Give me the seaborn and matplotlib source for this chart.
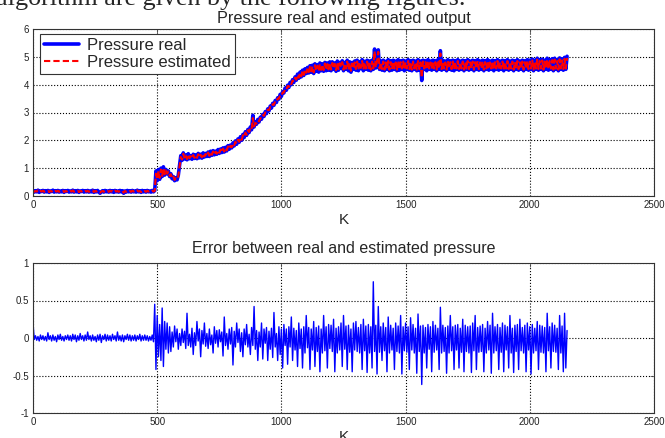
import numpy as np
import pandas as pd
import seaborn as sns
import matplotlib
matplotlib.use("Agg")
import matplotlib.pyplot as plt

# sample index K, one value every 5 samples
k = np.arange(0, 2155, 5)

pressure_real = [
    0.2, 0.14, 0.19, 0.15, 0.21, 0.13, 0.18, 0.16, 0.2, 0.14,
    0.19, 0.15, 0.2, 0.13, 0.18, 0.16, 0.21, 0.14, 0.19, 0.15,
    0.2, 0.14, 0.18, 0.15, 0.2, 0.13, 0.19, 0.16, 0.2, 0.14,
    0.18, 0.15, 0.21, 0.14, 0.19, 0.15, 0.2, 0.13, 0.18, 0.16,
    0.2, 0.14, 0.19, 0.15, 0.2, 0.14, 0.18, 0.15, 0.21, 0.13,
    0.19, 0.15, 0.2, 0.14, 0.1, 0.15, 0.19, 0.14, 0.2, 0.15,
    0.18, 0.14, 0.2, 0.15, 0.19, 0.13, 0.2, 0.15, 0.18, 0.14,
    0.2, 0.15, 0.19, 0.1, 0.18, 0.14, 0.2, 0.15, 0.19, 0.14,
    0.2, 0.15, 0.18, 0.14, 0.21, 0.15, 0.19, 0.13, 0.2, 0.15,
    0.19, 0.14, 0.2, 0.15, 0.18, 0.14, 0.2, 0.15, 0.19, 0.9,
    0.55, 0.95, 0.6, 1.0, 0.7, 1.05, 0.75, 0.95, 0.8, 0.9,
    0.7, 0.8, 0.62, 0.7, 0.55, 0.65, 0.58, 0.75, 1.1, 1.45,
    1.28, 1.55, 1.33, 1.47, 1.3, 1.52, 1.34, 1.45, 1.32, 1.5,
    1.35, 1.48, 1.34, 1.53, 1.37, 1.5, 1.36, 1.55, 1.4, 1.53,
    1.42, 1.58, 1.42, 1.61, 1.46, 1.63, 1.48, 1.61, 1.5, 1.67,
    1.53, 1.69, 1.56, 1.73, 1.58, 1.75, 1.62, 1.81, 1.68, 1.83,
    1.73, 1.91, 1.8, 1.98, 1.86, 2.05, 1.93, 2.13, 2.0, 2.21,
    2.1, 2.31, 2.18, 2.39, 2.28, 2.48, 2.38, 2.9, 2.48, 2.65,
    2.58, 2.75, 2.66, 2.83, 2.76, 2.93, 2.86, 3.03, 2.96, 3.13,
    3.06, 3.23, 3.16, 3.33, 3.26, 3.43, 3.36, 3.53, 3.48, 3.65,
    3.58, 3.75, 3.7, 3.88, 3.8, 3.98, 3.9, 4.08, 4.0, 4.18,
    4.08, 4.28, 4.16, 4.38, 4.23, 4.45, 4.28, 4.52, 4.33, 4.57,
    4.4, 4.62, 4.42, 4.68, 4.45, 4.7, 4.4, 4.75, 4.48, 4.72,
    4.45, 4.78, 4.5, 4.75, 4.48, 4.8, 4.5, 4.78, 4.52, 4.82,
    4.5, 4.82, 4.55, 4.78, 4.48, 4.85, 4.52, 4.8, 4.6, 4.86,
    4.5, 4.8, 4.55, 4.88, 4.5, 4.82, 4.45, 4.8, 4.55, 4.85,
    4.52, 4.88, 4.5, 4.83, 4.58, 4.9, 4.5, 4.84, 4.55, 4.88,
    4.52, 4.85, 4.5, 4.88, 4.55, 5.28, 4.6, 4.9, 5.25, 4.55,
    4.85, 4.52, 4.88, 4.5, 4.84, 4.55, 4.9, 4.5, 4.86, 4.52,
    4.88, 4.55, 4.85, 4.5, 4.9, 4.52, 4.86, 4.55, 4.88, 4.5,
    4.85, 4.55, 4.9, 4.52, 4.86, 4.5, 4.88, 4.55, 4.85, 4.5,
    4.9, 4.52, 4.85, 4.15, 4.88, 4.55, 4.86, 4.5, 4.9, 4.55,
    4.85, 4.52, 4.88, 4.55, 4.86, 4.5, 4.9, 4.55, 5.22, 4.52,
    4.88, 4.55, 4.85, 4.5, 4.9, 4.55, 4.86, 4.52, 4.88, 4.5,
    4.86, 4.55, 4.9, 4.52, 4.85, 4.55, 4.88, 4.5, 4.86, 4.55,
    4.9, 4.52, 4.85, 4.55, 4.88, 4.5, 4.86, 4.55, 4.9, 4.52,
    4.85, 4.55, 4.88, 4.5, 4.86, 4.55, 4.9, 4.52, 4.85, 4.55,
    4.88, 4.5, 4.86, 4.55, 4.9, 4.52, 4.85, 4.55, 4.88, 4.5,
    4.86, 4.55, 4.9, 4.52, 4.85, 4.55, 4.88, 4.5, 4.86, 4.55,
    4.9, 4.52, 4.85, 4.55, 4.88, 4.5, 4.86, 4.55, 4.9, 4.52,
    4.88, 4.55, 4.92, 4.5, 4.88, 4.55, 4.95, 4.52, 4.9, 4.55,
    4.92, 4.5, 4.88, 4.55, 4.95, 4.52, 4.9, 4.55, 4.93, 4.5,
    4.95, 4.55, 4.9, 4.5, 4.96, 4.55, 4.92, 4.52, 4.98, 4.55,
    5.02,
]

pressure_est = [
    0.19, 0.15, 0.18, 0.16, 0.2, 0.14, 0.18, 0.16, 0.19, 0.15,
    0.18, 0.16, 0.19, 0.14, 0.18, 0.16, 0.2, 0.15, 0.18, 0.16,
    0.19, 0.15, 0.18, 0.16, 0.19, 0.14, 0.18, 0.16, 0.19, 0.15,
    0.18, 0.16, 0.2, 0.15, 0.18, 0.16, 0.19, 0.14, 0.18, 0.16,
    0.19, 0.15, 0.18, 0.16, 0.19, 0.15, 0.18, 0.16, 0.2, 0.14,
    0.18, 0.16, 0.19, 0.15, 0.12, 0.16, 0.18, 0.15, 0.19, 0.16,
    0.18, 0.15, 0.19, 0.16, 0.18, 0.14, 0.19, 0.16, 0.18, 0.15,
    0.19, 0.16, 0.18, 0.12, 0.18, 0.15, 0.19, 0.16, 0.18, 0.15,
    0.19, 0.16, 0.18, 0.15, 0.2, 0.16, 0.18, 0.14, 0.19, 0.16,
    0.18, 0.15, 0.19, 0.16, 0.18, 0.15, 0.19, 0.16, 0.18, 0.8,
    0.6, 0.9, 0.65, 0.95, 0.72, 1.0, 0.78, 0.92, 0.8, 0.88,
    0.72, 0.78, 0.64, 0.7, 0.58, 0.64, 0.6, 0.72, 1.05, 1.4,
    1.31, 1.52, 1.35, 1.45, 1.33, 1.49, 1.36, 1.43, 1.35, 1.47,
    1.37, 1.46, 1.37, 1.5, 1.39, 1.48, 1.39, 1.52, 1.42, 1.51,
    1.44, 1.56, 1.45, 1.58, 1.48, 1.6, 1.5, 1.59, 1.52, 1.64,
    1.55, 1.67, 1.58, 1.7, 1.6, 1.72, 1.64, 1.78, 1.7, 1.8,
    1.75, 1.88, 1.82, 1.95, 1.88, 2.02, 1.95, 2.1, 2.02, 2.18,
    2.12, 2.28, 2.2, 2.36, 2.3, 2.45, 2.4, 2.8, 2.5, 2.62,
    2.6, 2.72, 2.68, 2.8, 2.78, 2.9, 2.88, 3.0, 2.98, 3.1,
    3.08, 3.2, 3.18, 3.3, 3.28, 3.4, 3.38, 3.5, 3.5, 3.62,
    3.6, 3.72, 3.72, 3.85, 3.82, 3.95, 3.92, 4.05, 4.02, 4.15,
    4.1, 4.25, 4.18, 4.35, 4.25, 4.42, 4.3, 4.5, 4.35, 4.55,
    4.43, 4.58, 4.45, 4.64, 4.48, 4.66, 4.44, 4.7, 4.5, 4.68,
    4.48, 4.73, 4.53, 4.72, 4.52, 4.76, 4.53, 4.74, 4.55, 4.78,
    4.54, 4.78, 4.58, 4.75, 4.52, 4.8, 4.56, 4.77, 4.62, 4.81,
    4.54, 4.76, 4.58, 4.83, 4.54, 4.78, 4.5, 4.76, 4.58, 4.8,
    4.56, 4.83, 4.54, 4.79, 4.6, 4.85, 4.54, 4.8, 4.58, 4.83,
    4.56, 4.8, 4.54, 4.83, 4.58, 5.2, 4.62, 4.85, 5.18, 4.58,
    4.8, 4.56, 4.83, 4.54, 4.8, 4.58, 4.85, 4.54, 4.81, 4.56,
    4.83, 4.58, 4.8, 4.54, 4.85, 4.56, 4.81, 4.58, 4.83, 4.54,
    4.8, 4.58, 4.85, 4.56, 4.81, 4.54, 4.83, 4.58, 4.8, 4.54,
    4.85, 4.56, 4.8, 4.25, 4.83, 4.58, 4.81, 4.54, 4.85, 4.58,
    4.8, 4.56, 4.83, 4.58, 4.81, 4.54, 4.85, 4.58, 5.12, 4.56,
    4.83, 4.58, 4.8, 4.54, 4.85, 4.58, 4.81, 4.56, 4.83, 4.54,
    4.81, 4.58, 4.85, 4.56, 4.8, 4.58, 4.83, 4.54, 4.81, 4.58,
    4.85, 4.56, 4.8, 4.58, 4.83, 4.54, 4.81, 4.58, 4.85, 4.56,
    4.8, 4.58, 4.83, 4.54, 4.81, 4.58, 4.85, 4.56, 4.8, 4.58,
    4.83, 4.54, 4.81, 4.58, 4.85, 4.56, 4.8, 4.58, 4.83, 4.54,
    4.81, 4.58, 4.85, 4.56, 4.8, 4.58, 4.83, 4.54, 4.81, 4.58,
    4.85, 4.56, 4.8, 4.58, 4.83, 4.54, 4.81, 4.58, 4.85, 4.56,
    4.83, 4.58, 4.87, 4.54, 4.83, 4.58, 4.9, 4.56, 4.85, 4.58,
    4.87, 4.54, 4.83, 4.58, 4.9, 4.56, 4.85, 4.58, 4.88, 4.54,
    4.9, 4.58, 4.85, 4.54, 4.91, 4.58, 4.87, 4.56, 4.93, 4.58,
    4.96,
]

error = [
    0.2, -0.02, 0.03, -0.03, 0.02, -0.04, 0.04, -0.02, 0.03, -0.03,
    0.02, -0.04, 0.07, -0.02, 0.03, -0.04, 0.04, -0.03, 0.02, -0.05,
    0.04, -0.02, 0.05, -0.03, 0.02, -0.04, 0.03, -0.02, 0.04, -0.03,
    0.03, -0.04, 0.05, -0.02, 0.04, -0.05, 0.03, -0.03, 0.06, -0.02,
    0.03, -0.04, 0.04, -0.03, 0.08, -0.02, 0.03, -0.04, 0.04, -0.03,
    0.02, -0.05, 0.04, -0.03, 0.05, -0.06, 0.03, -0.02, 0.05, -0.04,
    0.04, -0.03, 0.03, -0.04, 0.05, -0.02, 0.03, -0.04, 0.08, -0.03,
    0.03, -0.04, 0.04, -0.05, 0.03, -0.02, 0.05, -0.03, 0.04, -0.04,
    0.03, -0.03, 0.04, -0.04, 0.03, -0.02, 0.05, -0.04, 0.03, -0.03,
    0.04, -0.03, 0.03, -0.04, 0.02, -0.03, 0.04, -0.05, 0.45, -0.42,
    0.3, -0.25, 0.18, -0.3, 0.4, -0.38, 0.22, -0.15, 0.2, -0.2,
    0.15, -0.18, 0.08, -0.12, 0.16, -0.05, 0.12, -0.15, 0.06, -0.1,
    0.12, -0.06, 0.09, -0.14, 0.33, -0.1, 0.05, -0.12, 0.13, -0.22,
    0.07, -0.1, 0.22, -0.04, 0.12, -0.25, 0.1, -0.08, 0.2, -0.11,
    0.06, -0.14, 0.12, -0.09, 0.04, -0.2, 0.15, -0.07, 0.1, -0.12,
    0.11, -0.05, 0.08, -0.24, 0.28, -0.1, 0.06, -0.15, 0.12, -0.08,
    0.14, -0.36, 0.09, -0.12, 0.2, -0.06, 0.12, -0.18, 0.07, -0.25,
    0.12, -0.09, 0.18, -0.12, 0.05, -0.22, 0.14, -0.1, 0.42, -0.15,
    0.1, -0.3, 0.08, -0.12, 0.2, -0.28, 0.12, -0.07, 0.14, -0.3,
    0.09, -0.15, 0.13, -0.26, 0.34, -0.12, 0.06, -0.3, 0.15, -0.22,
    0.12, -0.4, 0.18, -0.1, 0.12, -0.35, 0.15, -0.12, 0.28, -0.3,
    0.13, -0.16, 0.1, -0.38, 0.2, -0.14, 0.12, -0.4, 0.15, -0.2,
    0.3, -0.13, 0.14, -0.42, 0.12, -0.16, 0.22, -0.38, 0.14, -0.18,
    0.16, -0.45, 0.12, -0.2, 0.3, -0.17, 0.15, -0.4, 0.18, -0.14,
    0.17, -0.18, 0.25, -0.45, 0.13, -0.2, 0.15, -0.16, 0.2, -0.38,
    0.3, -0.15, 0.16, -0.42, 0.17, -0.19, 0.12, -0.45, 0.2, -0.16,
    0.22, -0.18, 0.14, -0.2, 0.18, -0.42, 0.25, -0.17, 0.16, -0.46,
    0.18, -0.2, 0.15, -0.4, 0.75, -0.18, 0.17, -0.48, 0.42, -0.19,
    0.15, -0.3, 0.2, -0.17, 0.14, -0.45, 0.28, -0.2, 0.17, -0.16,
    0.13, -0.42, 0.2, -0.18, 0.16, -0.2, 0.3, -0.48, 0.15, -0.17,
    0.2, -0.19, 0.15, -0.42, 0.27, -0.16, 0.18, -0.2, 0.13, -0.47,
    0.32, -0.18, 0.16, -0.62, 0.17, -0.2, 0.14, -0.4, 0.18, -0.15,
    0.15, -0.45, 0.22, -0.19, 0.17, -0.16, 0.13, -0.42, 0.41, -0.2,
    0.17, -0.18, 0.14, -0.47, 0.16, -0.2, 0.3, -0.17, 0.15, -0.42,
    0.17, -0.16, 0.18, -0.4, 0.13, -0.19, 0.25, -0.45, 0.17, -0.18,
    0.15, -0.2, 0.16, -0.46, 0.2, -0.17, 0.3, -0.42, 0.14, -0.19,
    0.16, -0.18, 0.18, -0.45, 0.13, -0.2, 0.22, -0.16, 0.17, -0.47,
    0.33, -0.2, 0.15, -0.17, 0.18, -0.42, 0.14, -0.19, 0.2, -0.45,
    0.17, -0.16, 0.15, -0.4, 0.3, -0.2, 0.13, -0.46, 0.17, -0.18,
    0.18, -0.42, 0.25, -0.17, 0.14, -0.2, 0.17, -0.45, 0.2, -0.16,
    0.15, -0.48, 0.18, -0.2, 0.13, -0.17, 0.22, -0.42, 0.17, -0.19,
    0.16, -0.2, 0.14, -0.45, 0.33, -0.17, 0.15, -0.4, 0.2, -0.18,
    0.17, -0.19, 0.13, -0.42, 0.3, -0.2, 0.16, -0.45, 0.33, -0.4,
    0.1,
]

top = pd.DataFrame({"K": k, "real": pressure_real, "est": pressure_est})
bot = pd.DataFrame({"K": k, "err": error})

sns.set_style("white")
plt.rcParams["font.family"] = ["Liberation Sans", "DejaVu Sans"]

fig = plt.figure(figsize=(6.65, 4.38), dpi=100)
ax1 = fig.add_axes([33 / 665, 1 - 196 / 438, 621 / 665, 167 / 438])
ax2 = fig.add_axes([33 / 665, 1 - 413 / 438, 621 / 665, 150 / 438])

# cut-off line of the surrounding document text
fig.text(-0.006, 1 - 5.5 / 438, "algorithm are given by the following figures.",
         family=["Liberation Serif", "DejaVu Serif"], fontsize=18.8, va="baseline")

sns.lineplot(data=top, x="K", y="real", ax=ax1, color="blue", lw=2.6,
             label="Pressure real", estimator=None)
sns.lineplot(data=top, x="K", y="est", ax=ax1, color="red", lw=1.5,
             linestyle="--", label="Pressure estimated", estimator=None)
ax1.lines[-1].set_dashes((3, 1.5))

sns.lineplot(data=bot, x="K", y="err", ax=ax2, color="blue", lw=1.0,
             estimator=None)

for ax in (ax1, ax2):
    ax.set_xlim(0, 2500)
    ax.set_xticks([0, 500, 1000, 1500, 2000, 2500])
    ax.grid(True, linestyle=":", color="black", lw=0.8)
    ax.tick_params(direction="in", length=3, width=0.6, top=True, right=True,
                   labelsize=7, colors="0.3", labelcolor="#222222", pad=3)
    for s in ax.spines.values():
        s.set_color("0.2")
        s.set_linewidth(0.8)
    ax.set_xlabel("K", fontsize=11, labelpad=2)
    ax.set_ylabel("")

ax1.set_ylim(0, 6)
ax1.set_yticks(range(7))
ax1.set_title("Pressure real and estimated output", fontsize=11.7, pad=4.5)

ax2.set_ylim(-1, 1)
ax2.set_yticks([-1, -0.5, 0, 0.5, 1])
ax2.set_yticklabels(["-1", "-0.5", "0", "0.5", "1"])
ax2.set_title("Error between real and estimated pressure", fontsize=11.5, pad=7)

leg = ax1.legend(loc="upper left", bbox_to_anchor=(0.011, 0.97), borderaxespad=0,
                 fontsize=12, fancybox=False, framealpha=1, edgecolor="0.2",
                 handlelength=2.1, handletextpad=0.5, labelspacing=0.1,
                 borderpad=0.25)
leg.get_frame().set_linewidth(0.8)

fig.savefig("out.png", dpi=100)
